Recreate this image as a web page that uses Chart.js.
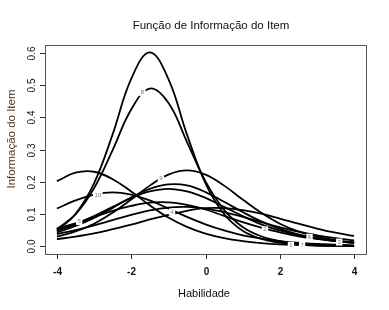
<!DOCTYPE html>
<html lang="pt">
<head>
<meta charset="UTF-8">
<title>Função de Informação do Item</title>
<script src="https://cdn.jsdelivr.net/npm/chart.js@4.4.0/dist/chart.umd.min.js"></script>
<style>
  html, body { margin: 0; padding: 0; background: #fff; }
  #wrap { width: 389px; height: 310px; }
</style>
</head>
<body>
<div id="wrap"><canvas id="cv" width="389" height="310"></canvas></div>
<script>
// habilidade (theta) grid
var theta = [-4, -3.5, -3, -2.5, -2, -1.5, -1, -0.5, 0, 0.5, 1, 1.5, 2, 2.5, 3, 3.5, 4];

// item information values
var item1 = [0.202, 0.228, 0.231, 0.208, 0.170, 0.127, 0.089, 0.060, 0.039, 0.025, 0.016, 0.010, 0.006, 0.004, 0.002, 0.001, 0.001];
var item2 = [0.055, 0.071, 0.091, 0.110, 0.125, 0.135, 0.136, 0.128, 0.114, 0.094, 0.075, 0.058, 0.043, 0.031, 0.023, 0.016, 0.011];
var item3 = [0.049, 0.068, 0.094, 0.122, 0.150, 0.170, 0.178, 0.170, 0.150, 0.122, 0.094, 0.068, 0.049, 0.034, 0.023, 0.016, 0.010];
var item4 = [0.022, 0.030, 0.040, 0.053, 0.067, 0.083, 0.097, 0.110, 0.118, 0.118, 0.112, 0.101, 0.086, 0.070, 0.055, 0.042, 0.032];
var item5 = [0.038, 0.050, 0.065, 0.081, 0.097, 0.111, 0.120, 0.122, 0.117, 0.106, 0.091, 0.075, 0.059, 0.045, 0.034, 0.025, 0.018];
var item6 = [0.043, 0.063, 0.088, 0.119, 0.151, 0.178, 0.192, 0.189, 0.168, 0.138, 0.106, 0.077, 0.054, 0.037, 0.025, 0.016, 0.011];
var item7 = [0.048, 0.100, 0.195, 0.347, 0.519, 0.601, 0.519, 0.347, 0.195, 0.100, 0.048, 0.023, 0.011, 0.005, 0.002, 0.001, 0.001];
var item8 = [0.053, 0.099, 0.180, 0.298, 0.424, 0.489, 0.445, 0.324, 0.201, 0.113, 0.060, 0.031, 0.016, 0.008, 0.004, 0.002, 0.001];
var item9 = [0.030, 0.046, 0.070, 0.104, 0.145, 0.188, 0.222, 0.235, 0.222, 0.188, 0.145, 0.104, 0.070, 0.046, 0.030, 0.019, 0.012];
var item10 = [0.117, 0.142, 0.160, 0.167, 0.160, 0.142, 0.117, 0.091, 0.068, 0.049, 0.034, 0.024, 0.016, 0.011, 0.007, 0.005, 0.003];

var items = [item1, item2, item3, item4, item5, item6, item7, item8, item9, item10];
var itemNames = ['1', '2', '3', '4', '5', '6', '7', '8', '9', '10'];

// where each item number sits on its curve
var labelX = [2.3, 1.6, 3.6, -0.9, -3.4, 2.8, 2.6, -1.7, -1.2, -2.9];
var labelY = [0.003, 0.051, 0.013, 0.106, 0.077, 0.028, 0.003, 0.477, 0.21, 0.159];

var xTicks = [-4, -2, 0, 2, 4];
var yTicks = [0, 0.1, 0.2, 0.3, 0.4, 0.5, 0.6];

var titleText = 'Função de Informação do Item';
var xTitle = 'Habilidade';
var yTitle = 'Informação do Item';

var datasets = items.map(function(vals, i) {
    return {
        label: itemNames[i],
        data: theta.map(function(t, j) { return { x: t, y: vals[j] }; }),
        borderColor: '#000',
        borderWidth: 1.8,
        pointRadius: 0,
        tension: 0.4,
        fill: false
    };
});

var rPlot = {
    id: 'rPlot',
    afterDatasetsDraw: function(chart) {
        var ctx = chart.ctx;
        var xs = chart.scales.x, ys = chart.scales.y;
        var a = chart.chartArea;
        ctx.save();

        // item numbers on the curves
        ctx.font = '6px "Liberation Sans", Arial, sans-serif';
        ctx.textAlign = 'center';
        ctx.textBaseline = 'middle';
        for (var i = 0; i < itemNames.length; i++) {
            var px = xs.getPixelForValue(labelX[i]);
            var py = ys.getPixelForValue(labelY[i]);
            var w = ctx.measureText(itemNames[i]).width + 3;
            ctx.fillStyle = '#fff';
            ctx.fillRect(px - w / 2, py - 3.5, w, 7);
            ctx.fillStyle = '#6a8296';
            ctx.fillText(itemNames[i], px, py);
        }

        // box
        ctx.strokeStyle = '#555';
        ctx.lineWidth = 1;
        ctx.strokeRect(Math.round(a.left) + 0.5, Math.round(a.top) + 0.5,
            Math.round(a.right - a.left), Math.round(a.bottom - a.top));

        // x axis
        ctx.strokeStyle = '#333';
        ctx.fillStyle = '#111';
        ctx.font = 'bold 10px "Liberation Sans", Arial, sans-serif';
        ctx.textAlign = 'center';
        ctx.textBaseline = 'middle';
        xTicks.forEach(function(t) {
            var px = Math.round(xs.getPixelForValue(t)) + 0.5;
            ctx.beginPath();
            ctx.moveTo(px, a.bottom);
            ctx.lineTo(px, a.bottom + 5);
            ctx.stroke();
            ctx.fillText(String(t), px, 272);
        });

        // y axis, labels parallel to the axis
        ctx.font = '10px "Liberation Sans", Arial, sans-serif';
        yTicks.forEach(function(t) {
            var py = Math.round(ys.getPixelForValue(t)) + 0.5;
            ctx.beginPath();
            ctx.moveTo(a.left, py);
            ctx.lineTo(a.left - 5, py);
            ctx.stroke();
            ctx.save();
            ctx.translate(32, py);
            ctx.rotate(-Math.PI / 2);
            ctx.fillText(t.toFixed(1), 0, 0);
            ctx.restore();
        });

        // titles
        ctx.fillStyle = '#111';
        ctx.font = '11.5px "Liberation Sans", Arial, sans-serif';
        ctx.fillText(titleText, 211, 26);
        ctx.font = '11px "Liberation Sans", Arial, sans-serif';
        ctx.fillText(xTitle, 204, 294);
        ctx.save();
        ctx.translate(12, 139);
        ctx.rotate(-Math.PI / 2);
        ctx.fillStyle = '#5a3422';
        ctx.font = '11.5px "Liberation Sans", Arial, sans-serif';
        ctx.fillText(yTitle, 0, 0);
        ctx.restore();

        ctx.restore();
    }
};

new Chart(document.getElementById('cv').getContext('2d'), {
    type: 'line',
    data: { datasets: datasets },
    options: {
        responsive: false,
        animation: false,
        events: [],
        layout: { padding: { left: 45, top: 45, right: 23, bottom: 56 } },
        scales: {
            x: { type: 'linear', min: -4.32, max: 4.32, display: false },
            y: { type: 'linear', min: -0.024, max: 0.624, display: false }
        },
        plugins: {
            legend: { display: false },
            tooltip: { enabled: false },
            title: { display: false }
        }
    },
    plugins: [rPlot]
});
</script>
</body>
</html>
